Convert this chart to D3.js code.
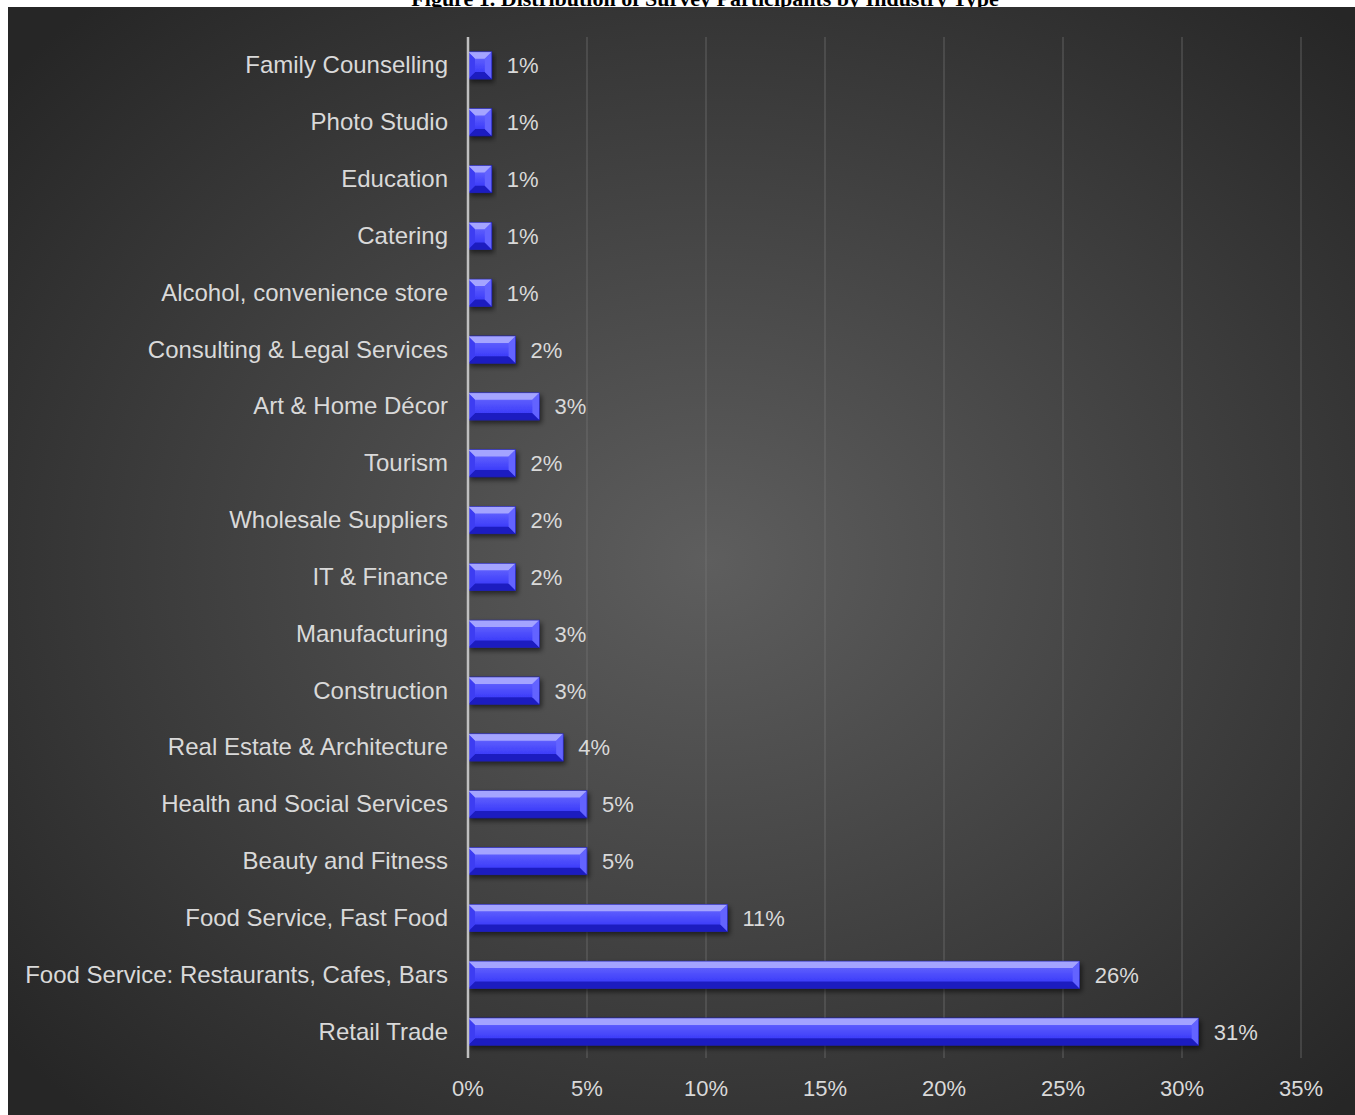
<!DOCTYPE html>
<html lang="en">
<head>
    <meta charset="UTF-8">
    <title>Distribution of Survey Participants by Industry Type</title>
    <script src="https://cdnjs.cloudflare.com/ajax/libs/d3/7.8.5/d3.min.js"></script>
    <style>
        body { margin: 0; padding: 0; background: #ffffff; }
        svg { display: block; }
    </style>
</head>
<body>
    <div id="chart"></div>
    <script>
        // data (top to bottom)
        const categories = [
            "Family Counselling", "Photo Studio", "Education", "Catering",
            "Alcohol, convenience store", "Consulting & Legal Services", "Art & Home Décor",
            "Tourism", "Wholesale Suppliers", "IT & Finance", "Manufacturing", "Construction",
            "Real Estate & Architecture", "Health and Social Services", "Beauty and Fitness",
            "Food Service, Fast Food", "Food Service: Restaurants, Cafes, Bars", "Retail Trade"
        ];
        const values = [1.0, 1.0, 1.0, 1.0, 1.0, 2.0, 3.0, 2.0, 2.0, 2.0, 3.0, 3.0, 4.0, 5.0, 5.0, 10.9, 25.7, 30.7];
        const labels = ["1%", "1%", "1%", "1%", "1%", "2%", "3%", "2%", "2%", "2%", "3%", "3%", "4%", "5%", "5%", "11%", "26%", "31%"];
        const xTicks = [0, 5, 10, 15, 20, 25, 30, 35];

        const width = 1355, height = 1115;
        const svg = d3.select("#chart").append("svg")
            .attr("width", width).attr("height", height);

        const defs = svg.append("defs");
        const bg = defs.append("radialGradient").attr("id", "bg")
            .attr("cx", "0.52").attr("cy", "0.5").attr("r", "0.68");
        bg.append("stop").attr("offset", "0%").attr("stop-color", "#5e5e5e");
        bg.append("stop").attr("offset", "100%").attr("stop-color", "#262626");

        const barGrad = defs.append("linearGradient").attr("id", "bar")
            .attr("x1", 0).attr("y1", 0).attr("x2", 0).attr("y2", 1);
        barGrad.append("stop").attr("offset", "0%").attr("stop-color", "#6e6eff");
        barGrad.append("stop").attr("offset", "100%").attr("stop-color", "#2c2cf8");

        const shadow = defs.append("filter").attr("id", "shadow")
            .attr("x", "-10%").attr("y", "-30%").attr("width", "130%").attr("height", "180%");
        shadow.append("feDropShadow").attr("dx", 2).attr("dy", 3).attr("stdDeviation", 2.5)
            .attr("flood-color", "#000").attr("flood-opacity", 0.55);

        // title (partly hidden behind the panel, as in the source)
        svg.append("text")
            .attr("x", 705).attr("y", 6)
            .attr("text-anchor", "middle")
            .attr("font-family", "Liberation Serif, Times New Roman, serif")
            .attr("font-weight", "bold")
            .attr("font-size", 22)
            .attr("fill", "#000")
            .text("Figure 1. Distribution of Survey Participants by Industry Type");

        // chart panel
        svg.append("rect")
            .attr("x", 8).attr("y", 7).attr("width", width - 8).attr("height", height - 7)
            .attr("fill", "url(#bg)");

        const x = d3.scaleLinear().domain([0, 35]).range([468, 1301]);
        const y = d3.scaleBand().domain(categories).range([37, 1060]).paddingInner(0.52).paddingOuter(0.26);

        const txt = "#d9d9d9";
        const font = "Liberation Sans, Arial, sans-serif";

        // gridlines
        svg.append("g").selectAll("line")
            .data(xTicks.slice(1))
            .join("line")
            .attr("x1", d => x(d)).attr("x2", d => x(d))
            .attr("y1", 37).attr("y2", 1058)
            .attr("stroke", "#7a7a7a").attr("stroke-opacity", 0.5).attr("stroke-width", 1.3);

        // tick labels
        svg.append("g").selectAll("text")
            .data(xTicks)
            .join("text")
            .attr("x", d => x(d)).attr("y", 1096)
            .attr("text-anchor", "middle")
            .attr("font-family", font).attr("font-size", 22).attr("fill", txt)
            .text(d => d + "%");

        // bars with bevel
        const b = 7;
        const bars = svg.append("g").selectAll("g")
            .data(categories)
            .join("g")
            .attr("filter", "url(#shadow)");

        bars.each(function (d, i) {
            const g = d3.select(this);
            const x0 = x(0), x1 = x(values[i]);
            const y0 = y(d), y1 = y(d) + y.bandwidth();
            const bb = Math.min(b, (x1 - x0) / 2);
            g.append("rect").attr("x", x0).attr("y", y0)
                .attr("width", x1 - x0).attr("height", y1 - y0).attr("fill", "url(#bar)");
            const poly = (pts, fill) => g.append("polygon")
                .attr("points", pts.map(p => p.join(",")).join(" ")).attr("fill", fill);
            poly([[x0, y0], [x1, y0], [x1 - bb, y0 + bb], [x0 + bb, y0 + bb]], "#a4a4ff");
            poly([[x0, y1], [x1, y1], [x1 - bb, y1 - bb], [x0 + bb, y1 - bb]], "#1e1ec0");
            poly([[x0, y0], [x0 + bb, y0 + bb], [x0 + bb, y1 - bb], [x0, y1]], "#3c3cf2");
            poly([[x1, y0], [x1 - bb, y0 + bb], [x1 - bb, y1 - bb], [x1, y1]], "#6464ff");
            g.append("rect").attr("x", x0).attr("y", y0)
                .attr("width", x1 - x0).attr("height", y1 - y0)
                .attr("fill", "none").attr("stroke", "#1a1aa8").attr("stroke-width", 0.6);
        });

        // axis line
        svg.append("line")
            .attr("x1", x(0)).attr("x2", x(0)).attr("y1", 37).attr("y2", 1058)
            .attr("stroke", "#bfbfbf").attr("stroke-width", 2.5);

        // value labels
        svg.append("g").selectAll("text")
            .data(categories)
            .join("text")
            .attr("x", (d, i) => x(values[i]) + 15)
            .attr("y", d => y(d) + y.bandwidth() / 2 + 8)
            .attr("font-family", font).attr("font-size", 22).attr("fill", txt)
            .text((d, i) => labels[i]);

        // category labels
        svg.append("g").selectAll("text")
            .data(categories)
            .join("text")
            .attr("x", 448)
            .attr("y", d => y(d) + y.bandwidth() / 2 + 8)
            .attr("text-anchor", "end")
            .attr("font-family", font).attr("font-size", 24).attr("fill", txt)
            .text(d => d);
    </script>
</body>
</html>
